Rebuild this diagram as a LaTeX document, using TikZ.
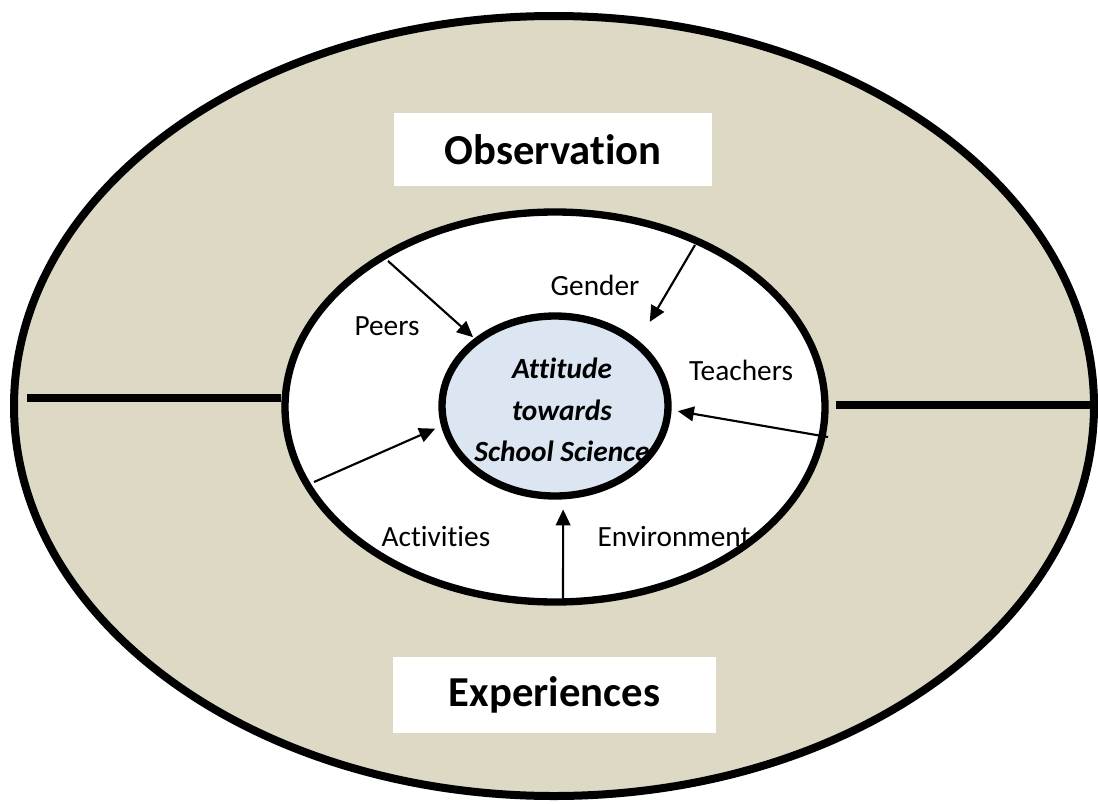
\documentclass[tikz,border=0pt]{standalone}
\usepackage{fontspec}
\setmainfont{Carlito}[Ligatures={NoCommon}]
\usetikzlibrary{arrows.meta,positioning,shapes.geometric}

\begin{document}
\begin{tikzpicture}[
        x=0.75pt,y=-0.75pt,
        arr/.style={line width=1.6pt,-{Triangle[length=12pt,width=11pt]}},
        lbl/.style={font=\fontsize{22}{26}\selectfont},
        titlebox/.style={fill=white,inner sep=0pt,font=\fontsize{32}{38}\selectfont\bfseries}
    ]
    \definecolor{tanx}{HTML}{DDD9C4}
    \definecolor{blx}{HTML}{DCE6F2}

    \useasboundingbox (0,0) rectangle (1098,803);

    \begin{scope}[
        every node/.style={ellipse,draw,inner sep=0pt}
    ]
        \node (outer) [fill=tanx,line width=6pt,minimum width=810pt,minimum height=585pt]   at (554,406) {};
        \node (ring)  [fill=white,line width=5.5pt,minimum width=405pt,minimum height=292.5pt] at (555,407) {};
        \node (core)  [fill=blx,line width=5.5pt,minimum width=169.5pt,minimum height=135pt]  at (555,406) {};
    \end{scope}

    \coordinate (lineL) at (27,398);
    \coordinate (lineR) at (836,405);
    \draw [line width=6pt] (lineL) -- (lineL -| ring.west);
    \draw [line width=6pt] (lineR) -- (lineR -| outer.east);

    \node (obs) [titlebox,minimum width=238.5pt,minimum height=54.75pt] at (553,149.5) {Observation};
    \node (exp) [titlebox,minimum width=242pt,minimum height=57pt]      at (554.5,695)  {Experiences};

    \node (peers)  [lbl] at (387,326) {Peers};
    \node (gender) [lbl] at (595,285) {Gender};
    \node (teach)  [lbl] at (741,370) {Teachers};
    \node (activ)  [lbl] at (436,537) {Activities};
    \node (env)    [lbl] at (674,537) {Environment};
    \node (att) [align=center,font=\fontsize{22}{31}\selectfont\bfseries\itshape] at (562,410)
        {Attitude\\towards\\School Science};

    \coordinate (peersS)  at (388,261);
    \coordinate (genderS) at (695,245);
    \coordinate (teachS)  at (828,437);
    \coordinate (activS)  at (314,482);
    \coordinate (envS)    at (563,602);

    \draw [arr,shorten >=1.3pt]  (peersS)  -- (core.140);
    \draw [arr,shorten >=16.4pt] (genderS) -- (core.38);
    \draw [arr,shorten >=4.8pt]  (teachS)  -- (core.-2);
    \draw [arr,shorten >=4.8pt]  (activS)  -- (core.190);
    \draw [arr,shorten >=7.5pt]  (envS)    -- (core.-85);
\end{tikzpicture}
\end{document}
